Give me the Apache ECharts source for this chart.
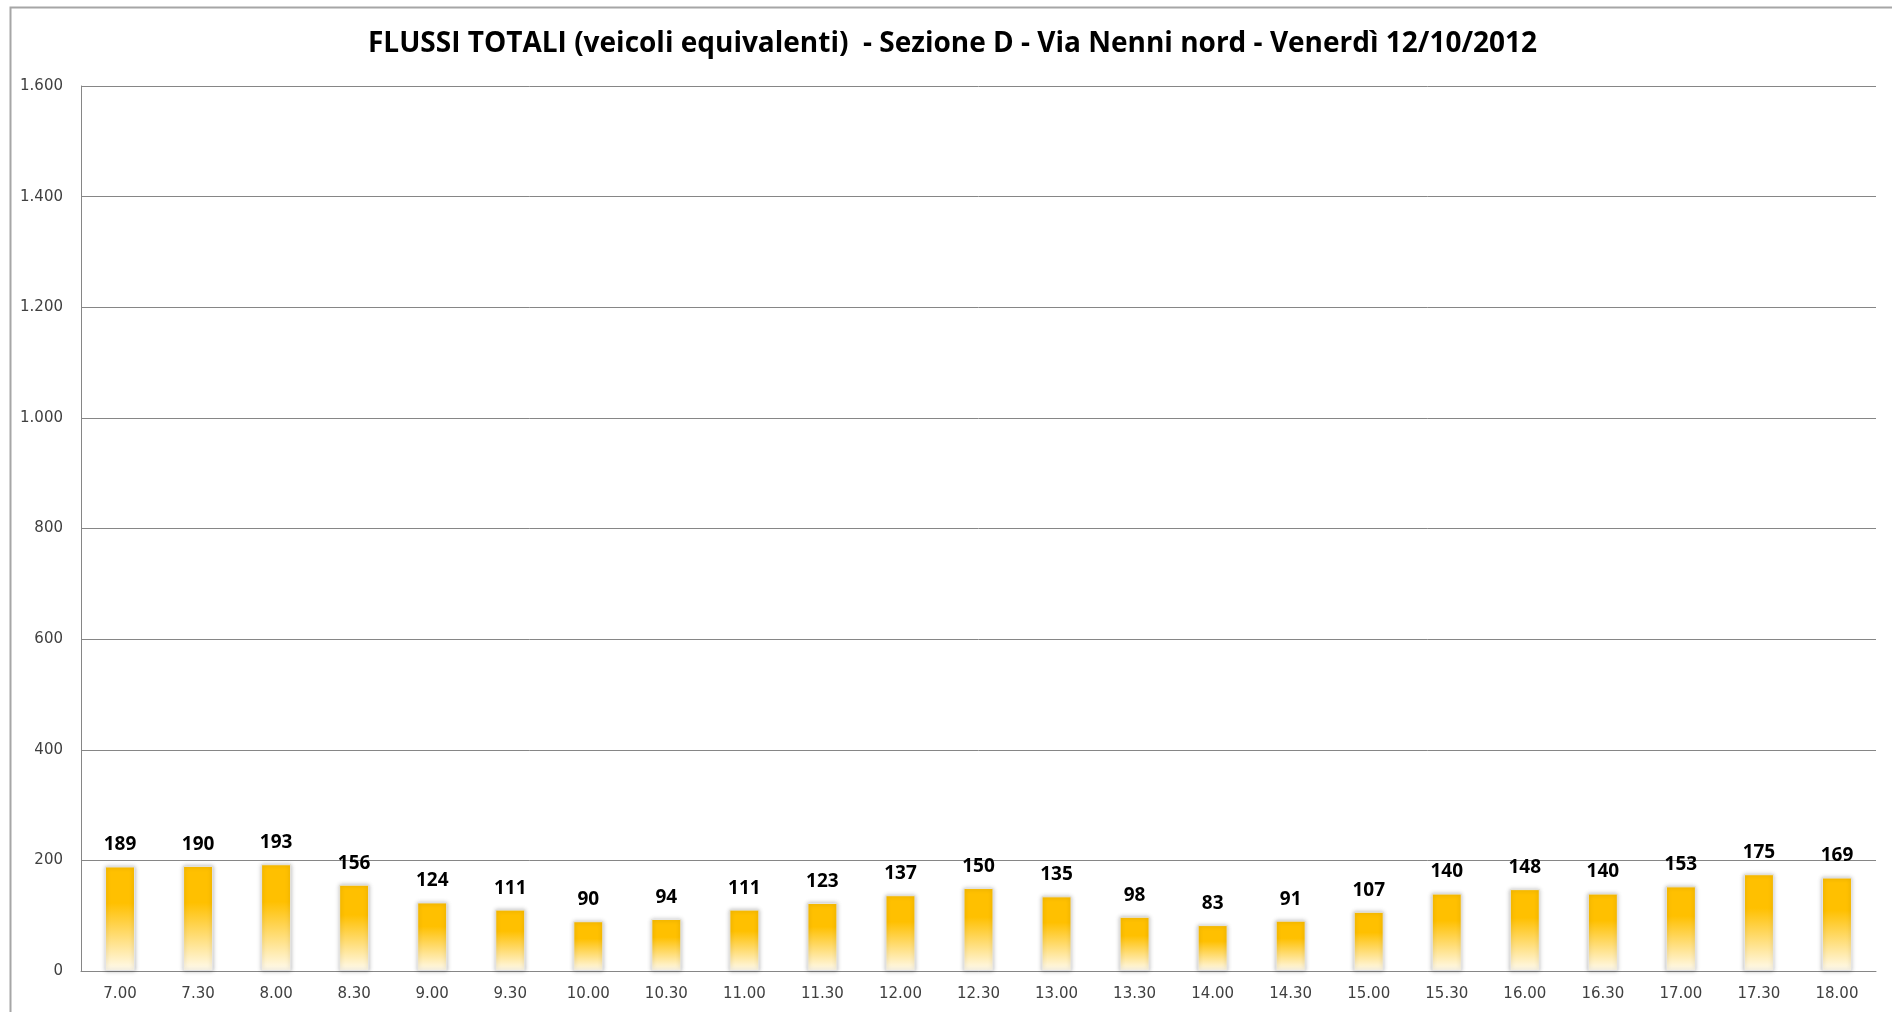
<!DOCTYPE html>
<html>
<head>
<meta charset="utf-8">
<script src="https://cdn.jsdelivr.net/npm/echarts@6/dist/echarts.min.js"></script>
<style>
  html, body { margin: 0; padding: 0; background: #fff; }
  #main { width: 1892px; height: 1012px; }
</style>
</head>
<body>
<div id="main"></div>
<script>
// Data
var fasce = ['7.00', '7.30', '8.00', '8.30', '9.00', '9.30', '10.00', '10.30', '11.00', '11.30', '12.00', '12.30',
  '13.00', '13.30', '14.00', '14.30', '15.00', '15.30', '16.00', '16.30', '17.00', '17.30', '18.00'];
var flussi = [189, 190, 193, 156, 124, 111, 90, 94, 111, 123, 137, 150, 135, 98, 83, 91, 107, 140, 148, 140, 153, 175, 169];
var yMax = 1600;
var yStep = 200;

var chart = echarts.init(document.getElementById('main'));

chart.setOption({
  animation: false,
  backgroundColor: '#fff',
  title: {
    text: 'FLUSSI TOTALI (veicoli equivalenti)  - Sezione D - Via Nenni nord - Venerdì 12/10/2012',
    left: 363,
    top: 25,
    textStyle: {
      fontFamily: 'Open Sans',
      fontSize: 28,
      fontWeight: 'bold',
      color: '#000'
    }
  },
  // outer chart border, cropped at right and bottom
  graphic: [{
    type: 'rect',
    shape: { x: 10.5, y: 7.5, width: 1950, height: 1100 },
    style: { fill: 'none', stroke: '#a6a6a6', lineWidth: 2 },
    silent: true
  }],
  grid: {
    left: 81,
    right: 16,
    top: 86,
    bottom: 41
  },
  xAxis: {
    type: 'category',
    data: fasce,
    axisLine: { lineStyle: { color: '#868686', width: 1 } },
    axisTick: { show: false },
    axisLabel: {
      color: '#404040',
      fontFamily: 'DejaVu Sans',
      fontSize: 15,
      margin: 16
    }
  },
  yAxis: {
    type: 'value',
    min: 0,
    max: yMax,
    interval: yStep,
    axisLine: { show: true, lineStyle: { color: '#868686', width: 1 } },
    axisTick: { show: false },
    splitLine: { lineStyle: { color: '#868686', width: 1 } },
    axisLabel: {
      color: '#404040',
      fontFamily: 'DejaVu Sans',
      fontSize: 15,
      margin: 18,
      formatter: function (v) {
        return v.toString().replace(/\B(?=(\d{3})+(?!\d))/g, '.');
      }
    }
  },
  series: [{
    type: 'bar',
    data: flussi,
    barWidth: 30,
    itemStyle: {
      color: {
        type: 'linear', x: 0, y: 0, x2: 0, y2: 1,
        colorStops: [
          { offset: 0, color: '#FFC000' },
          { offset: 0.35, color: '#FFC000' },
          { offset: 1, color: '#FFFBF0' }
        ]
      },
      borderColor: '#e4e4e4',
      borderWidth: 1,
      shadowBlur: 4,
      shadowColor: 'rgba(0,0,0,0.25)'
    },
    label: {
      show: true,
      position: 'top',
      distance: 12,
      color: '#000',
      fontFamily: 'Open Sans',
      fontWeight: 'bold',
      fontSize: 19
    }
  }]
});
</script>
</body>
</html>
